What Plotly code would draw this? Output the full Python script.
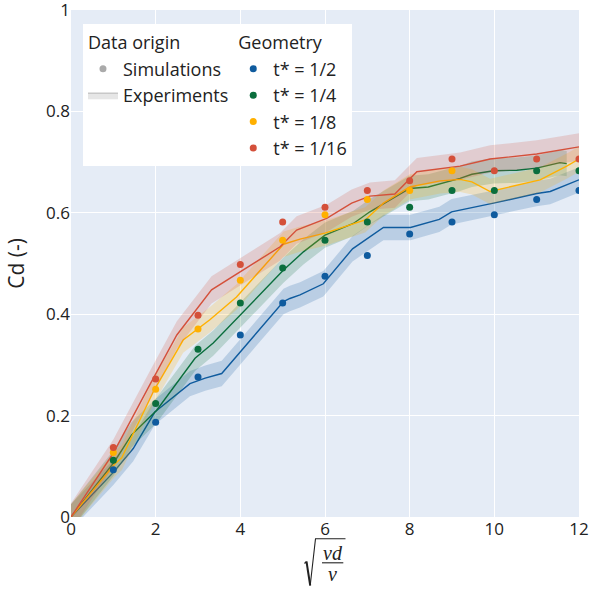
import plotly.graph_objects as go

# ---------------- data ----------------
sim_x = [1, 2, 3, 4, 5, 6, 7, 8, 9, 10, 11, 12]
sim_blue = [0.093, 0.187, 0.276, 0.359, 0.422, 0.475, 0.516, 0.558, 0.582, 0.596, 0.626, 0.644]
sim_green = [0.112, 0.224, 0.331, 0.422, 0.491, 0.546, 0.582, 0.611, 0.644, 0.644, 0.683, 0.683]
sim_orange = [0.127, 0.252, 0.371, 0.467, 0.546, 0.596, 0.626, 0.644, 0.683, None, None, None]
sim_red = [0.137, 0.272, 0.398, 0.498, 0.582, 0.611, 0.644, 0.663, 0.706, 0.683, 0.706, 0.706]

exp_blue_x = [0, 1.0, 1.47, 1.98, 2.81, 3.17, 3.56, 5.02, 5.17, 5.41, 5.96, 6.65, 7.38, 8.02, 8.7, 8.99, 9.98, 11.0, 11.32, 12.0]
exp_blue_y = [0, 0.088, 0.135, 0.207, 0.263, 0.274, 0.283, 0.425, 0.431, 0.438, 0.460, 0.529, 0.571, 0.571, 0.587, 0.602, 0.619, 0.638, 0.642, 0.665]

exp_green_x = [0, 1.0, 1.43, 2.02, 2.93, 3.36, 5.02, 5.49, 6.0, 6.67, 7.06, 8.0, 8.44, 9.19, 9.47, 9.98, 10.53, 11.0, 11.55, 11.71]
exp_green_y = [0, 0.106, 0.162, 0.210, 0.313, 0.343, 0.487, 0.523, 0.556, 0.579, 0.602, 0.648, 0.651, 0.668, 0.676, 0.683, 0.684, 0.688, 0.699, 0.697]

exp_orange_x = [0, 1.04, 1.2, 1.95, 2.65, 3.28, 3.91, 5.02, 5.41, 6.0, 6.95, 7.38, 8.0, 8.72, 9.19, 9.47, 9.9, 10.41, 11.08, 11.71, 12.0]
exp_orange_y = [0, 0.105, 0.117, 0.248, 0.349, 0.389, 0.434, 0.538, 0.548, 0.560, 0.586, 0.619, 0.651, 0.663, 0.666, 0.661, 0.642, 0.652, 0.665, 0.692, 0.706]

exp_red_x = [0, 1.0, 1.87, 2.5, 3.32, 4.07, 4.94, 5.33, 6.04, 6.63, 7.06, 7.65, 8.17, 9.19, 9.9, 11.0, 12.0]
exp_red_y = [0, 0.126, 0.262, 0.359, 0.448, 0.487, 0.533, 0.566, 0.589, 0.619, 0.633, 0.637, 0.681, 0.692, 0.706, 0.716, 0.730]

exp_err = [0.025, 0.025, 0.025, 0.027]   # band half-width per geometry

names = ["t* = 1/2", "t* = 1/4", "t* = 1/8", "t* = 1/16"]
colors = ["#0f5b9e", "#0a6e3d", "#ffb000", "#d4503a"]
bands = ["rgba(15,91,158,0.2)", "rgba(10,110,61,0.2)", "rgba(255,176,0,0.2)", "rgba(212,80,58,0.2)"]

sims = [sim_blue, sim_green, sim_orange, sim_red]
exps = [(exp_blue_x, exp_blue_y), (exp_green_x, exp_green_y),
        (exp_orange_x, exp_orange_y), (exp_red_x, exp_red_y)]

TXT = "#222222"
fig = go.Figure()

# legend-only "Data origin" entries
fig.add_trace(go.Scatter(x=[None], y=[None], mode="markers", name="Simulations",
                         marker=dict(color="#aaaaaa", size=7),
                         legendgroup="origin", legendgrouptitle_text="Data origin"))
fig.add_trace(go.Scatter(x=[None], y=[None], mode="lines", name="Experiments",
                         line=dict(color="#c8c8c8", width=1.5),
                         fill="tonexty", fillcolor="rgba(200,200,200,0.45)",
                         legendgroup="origin"))

# experimental bands and lines
for (ex, ey), err, c, b in zip(exps, exp_err, colors, bands):
    up = [v + err for v in ey]
    lo = [v - err for v in ey]
    fig.add_trace(go.Scatter(x=list(ex) + list(ex[::-1]), y=up + lo[::-1],
                             mode="lines", fill="toself", fillcolor=b,
                             line=dict(width=0), hoverinfo="skip", showlegend=False))
    fig.add_trace(go.Scatter(x=ex, y=ey, mode="lines", line=dict(color=c, width=1.4),
                             showlegend=False))

# simulation points
for i, (sy, c, n) in enumerate(zip(sims, colors, names)):
    kw = dict(legendgrouptitle_text="Geometry") if i == 0 else {}
    fig.add_trace(go.Scatter(x=sim_x, y=sy, mode="markers", name=n,
                             marker=dict(color=c, size=7),
                             legendgroup="geometry", **kw))

# ---------- x-axis title sqrt(vd/nu) drawn as text + strokes ----------
L, R, T, B = 71, 11, 10, 72
W, H = 590, 589
pw, ph = W - L - R, H - T - B


def pp(px, py):
    return (px - L) / pw, (H - B - py) / ph


def path(points):
    s = ""
    for k, (px, py) in enumerate(points):
        x, y = pp(px, py)
        s += ("M" if k == 0 else "L") + f"{x:.5f},{y:.5f} "
    return s.strip()


shapes = [
    dict(type="path", xref="paper", yref="paper",
         path=path([(304.5, 563.5), (306.5, 561.5)]),
         line=dict(color=TXT, width=1.2)),
    dict(type="path", xref="paper", yref="paper",
         path=path([(306.5, 561.5), (310.2, 585.5)]),
         line=dict(color=TXT, width=2.0)),
    dict(type="path", xref="paper", yref="paper",
         path=path([(310.2, 585.5), (315.5, 538.8), (345.5, 538.8)]),
         line=dict(color=TXT, width=1.1)),
    dict(type="path", xref="paper", yref="paper",
         path=path([(322, 562.8), (343.3, 562.8)]),
         line=dict(color=TXT, width=1.1)),
]
ax, ay = pp(332.5, 553.0)
bx, by = pp(332.5, 574.0)
annotations = [
    dict(text="<i>vd</i>", x=ax, y=ay, xref="paper", yref="paper", showarrow=False,
         xanchor="center", yanchor="middle",
         font=dict(family="Liberation Serif", size=20, color=TXT)),
    dict(text="<i>ν</i>", x=bx, y=by, xref="paper", yref="paper", showarrow=False,
         xanchor="center", yanchor="middle",
         font=dict(family="Liberation Serif", size=20, color=TXT)),
]

fig.update_layout(
    width=W, height=H,
    margin=dict(l=L, r=R, t=T, b=B, autoexpand=False),
    paper_bgcolor="white", plot_bgcolor="#E5ECF6",
    font=dict(family="Open Sans", size=17, color=TXT),
    showlegend=True,
    legend=dict(orientation="h", traceorder="grouped",
                x=0.0236, y=0.972, xanchor="left", yanchor="top",
                bgcolor="white", font=dict(size=18, color=TXT),
                grouptitlefont=dict(size=18, color=TXT)),
    shapes=shapes, annotations=annotations,
)
fig.update_xaxes(range=[0, 12], tickmode="linear", tick0=0, dtick=2,
                 showgrid=True, gridcolor="white", automargin=False,
                 ticklabeloverflow="allow",
                 gridwidth=1, zeroline=False, showline=False, ticks="",
                 tickfont=dict(size=17, color=TXT))
fig.update_yaxes(range=[0, 1], tickmode="linear", tick0=0, dtick=0.2,
                 showgrid=True, automargin=False, ticklabeloverflow="allow",
                 gridcolor="white", gridwidth=1, zeroline=False, showline=False, ticks="",
                 tickfont=dict(size=17, color=TXT),
                 title=dict(text="Cd (-)", font=dict(size=21, color=TXT)))

fig.write_html("out.html", config={"displayModeBar": False},
               post_script="document.body.style.margin='0px';")
